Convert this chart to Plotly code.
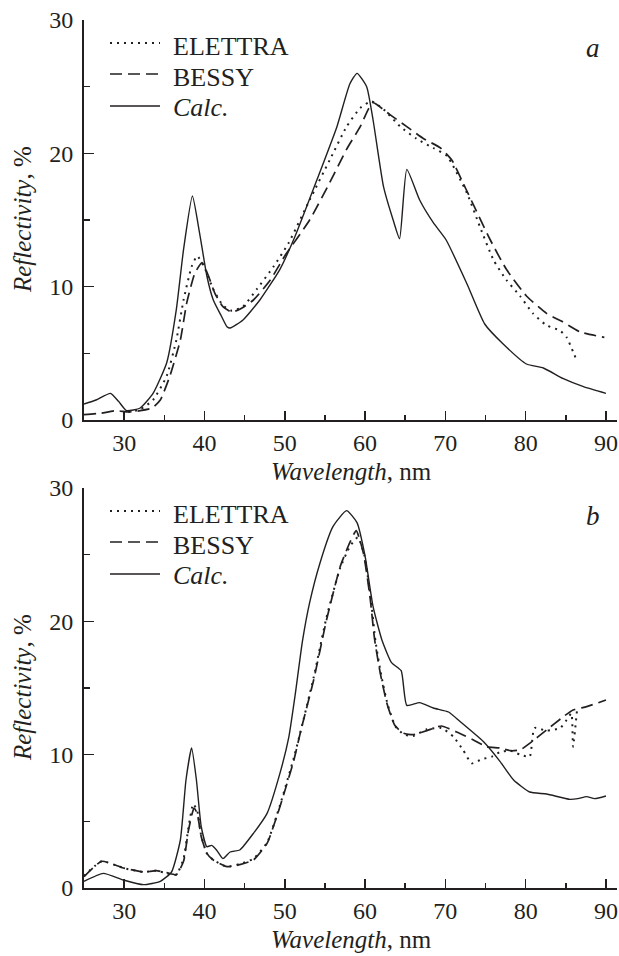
import plotly.graph_objects as go

# ---------------- data ----------------
# Panel a
calc_a_x = [25, 26.5, 28.3, 29.3, 30.3, 32, 33.6, 35.3, 36.5, 37.4, 38.5, 39.4, 40.3, 41.1, 42.1, 42.8,
            43.2, 44.8, 46.9, 49.4, 51.3, 54, 56.5, 58.1, 59.0, 60.2, 61.0, 62.3, 63.5, 64.3, 65.2, 66.8,
            68.5, 70.1, 72.7, 74.9, 77.2, 80.1, 82.2, 84.7, 87.2, 90.0]
calc_a_y = [1.2, 1.5, 2.0, 1.4, 0.7, 0.9, 2.0, 4.3, 8.3, 12.8, 16.8, 14.0, 10.8, 9.0, 7.8, 7.0,
            6.9, 7.5, 9.0, 11.3, 13.8, 18.0, 22.0, 25.2, 26.0, 25.0, 22.5, 17.5, 15.0, 13.6, 18.8, 16.5,
            14.8, 13.5, 10.2, 7.2, 5.7, 4.2, 3.9, 3.1, 2.5, 2.0]

elettra_a_x = [30.5, 32, 33.6, 35.3, 36.5, 37.4, 38.4, 39.1, 40.1, 41.1, 42.3, 43.4, 44.8, 46.5, 48.6,
               50.5, 53.1, 55.6, 57.7, 59.4, 60.8, 62.3, 64.4, 66.4, 68.5, 70.2, 72.7, 74.3, 76.0, 77.6,
               79.3, 80.9, 82.6, 84.3, 85.1, 86.4]
elettra_a_y = [0.6, 0.8, 1.5, 3.3, 6.0, 9.0, 11.5, 12.3, 11.3, 9.8, 8.6, 8.2, 8.5, 9.8, 11.5,
               13.3, 16.5, 19.5, 22.0, 23.4, 23.9, 23.3, 22.0, 21.1, 20.4, 19.8, 17.0, 14.5, 12.0, 10.5,
               9.3, 8.0, 7.1, 6.7, 6.2, 4.4]

bessy_a_x = [25, 27, 29, 30.5, 32, 33.5, 34.5, 35.7, 37.0, 37.8, 38.8, 39.7, 40.5, 41.3, 42.3, 43.4,
             44.4, 46.1, 48.2, 50.0, 53.1, 55.6, 57.7, 59.4, 60.4, 61.0, 63.1, 65.2, 67.3, 69.4, 70.8,
             72.5, 75.6, 77.6, 80.1, 82.6, 84.5, 86.8, 89.8]
bessy_a_y = [0.4, 0.5, 0.7, 0.6, 0.7, 0.9, 1.5, 3.3, 6.0, 8.8, 11.0, 11.8, 10.8, 9.5, 8.5, 8.1,
             8.3, 9.0, 10.5, 12.3, 15.0, 17.8, 20.3, 22.0, 23.3, 23.8, 22.9, 22.0, 21.1, 20.4, 19.5,
             17.4, 13.5, 11.3, 9.3, 8.0, 7.4, 6.6, 6.2]

# Panel b
calc_b_x = [25, 27.4, 29.9, 32.4, 34.5, 35.9, 37.0, 37.7, 38.4, 39.0, 39.6, 40.3, 40.9, 41.5, 42.3,
            43.2, 44.4, 46.1, 47.8, 49.4, 50.5, 51.3, 52.2, 53.1, 54.4, 56.0, 57.7, 59.0, 60.0, 61.0,
            62.1, 63.3, 64.5, 65.2, 66.8, 68.5, 70.4, 71.8, 74.7, 76.8, 78.5, 80.5, 82.6, 85.5, 86.5,
            87.6, 88.6, 90.0]
calc_b_y = [0.5, 1.1, 0.6, 0.25, 0.5, 1.2, 3.6, 8.1, 10.5, 8.1, 4.6, 3.1, 3.2, 2.85, 2.2,
            2.7, 2.85, 4.1, 5.6, 8.6, 11.3, 14.5, 18.5, 21.4, 24.4, 27.1, 28.3, 27.4, 24.9, 21.1,
            18.6, 16.9, 16.3, 13.7, 13.9, 13.5, 13.2, 12.5, 11.0, 9.5, 8.1, 7.2, 7.05, 6.65, 6.7,
            6.85, 6.7, 6.9]

elettra_b_x = [25, 27.2, 29.9, 32.4, 34.0, 35.3, 36.5, 37.4, 38.0, 38.6, 39.1, 39.6, 40.3, 41.1, 42.8,
               44.4, 46.1, 47.8, 49.4, 51.1, 52.0, 53.6, 55.2, 56.9, 58.1, 59.1, 59.9, 60.7, 61.3, 62.0,
               62.8, 63.8, 64.9, 66.0, 67.7, 69.5, 71.0, 72.2, 73.3, 74.5, 75.8, 76.8, 78.1, 79.3, 80.5,
               81.1, 82.6, 84.3, 85.1, 85.7, 85.9, 86.4]
elettra_b_y = [0.9, 2.0, 1.5, 1.2, 1.3, 1.1, 1.0, 2.2, 4.5, 6.3, 5.8, 3.9, 2.6, 2.1, 1.6,
               1.8, 2.2, 3.4, 6.2, 9.7, 11.8, 15.8, 20.3, 24.0, 25.6, 26.3, 25.0, 21.8, 18.5, 16.0,
               13.8, 12.1, 11.5, 11.4, 11.9, 12.0, 11.35, 10.35, 9.35, 9.65, 9.85, 10.2, 10.3, 10.0, 9.85,
               12.0, 11.8, 12.0, 12.6, 13.1, 10.6, 13.35]

bessy_b_x = [25, 27.2, 29.9, 32.4, 34.0, 35.3, 36.5, 37.4, 38.0, 38.7, 39.1, 39.6, 40.3, 41.1, 42.8,
             44.4, 46.1, 47.8, 49.4, 51.1, 52.0, 53.6, 55.2, 56.9, 58.1, 58.9, 59.8, 60.6, 61.2, 61.9,
             62.7, 63.7, 64.8, 66.0, 67.7, 69.5, 71.4, 73.5, 75.1, 76.8, 78.1, 79.3, 80.5, 82.6, 84.7,
             85.9, 87.6, 90.0]
bessy_b_y = [0.85, 2.0, 1.5, 1.2, 1.3, 1.15, 1.0, 2.0, 4.3, 6.0, 5.6, 3.85, 2.6, 2.1, 1.6,
             1.75, 2.1, 3.35, 6.1, 9.5, 11.8, 15.6, 20.1, 24.1, 25.9, 26.8, 25.1, 21.9, 18.6, 16.1,
             13.9, 12.2, 11.6, 11.5, 11.8, 12.15, 11.7, 11.1, 10.6, 10.5, 10.3, 10.35, 10.85, 11.85, 12.85,
             13.35, 13.6, 14.1]

series_names = ["ELETTRA", "BESSY", "Calc."]
legend_labels = ["ELETTRA", "BESSY", "<i>Calc.</i>"]
panel_labels = ["a", "b"]
x_ticks = [30, 40, 50, 60, 70, 80, 90]
y_ticks = [0, 10, 20, 30]

# ---------------- style ----------------
FONT = "Liberation Serif"
INK = "#231f20"
W, H = 619, 956
ML, MR, MT, MB = 84, 2, 20, 68
PH = H - MT - MB
PW = W - ML - MR
top_dom = [(888 - 420) / PH, 1.0]
bot_dom = [0.0, (888 - 488) / PH]
XR = [25, 25 + PW / 8.03]

dashes = {"ELETTRA": "2px,5px", "BESSY": "12px,6px", "Calc.": "solid"}
widths = {"ELETTRA": 2.0, "BESSY": 1.7, "Calc.": 1.4}

panels = [
    ("x", "y", {"ELETTRA": (elettra_a_x, elettra_a_y), "BESSY": (bessy_a_x, bessy_a_y),
                "Calc.": (calc_a_x, calc_a_y)}),
    ("x2", "y2", {"ELETTRA": (elettra_b_x, elettra_b_y), "BESSY": (bessy_b_x, bessy_b_y),
                  "Calc.": (calc_b_x, calc_b_y)}),
]

fig = go.Figure()
for xa, ya, d in panels:
    for name in series_names:
        xs, ys = d[name]
        fig.add_trace(go.Scatter(x=xs, y=ys, mode="lines", name=name, xaxis=xa, yaxis=ya,
                                 showlegend=False, hoverinfo="skip",
                                 line=dict(color=INK, width=widths[name], dash=dashes[name],
                                           shape="spline", smoothing=0.5)))

def axis_common(standoff):
    return dict(showline=True, linecolor=INK, linewidth=2, ticks="inside", tickcolor=INK,
                tickwidth=1.5, showgrid=False, zeroline=False,
                tickfont=dict(family=FONT, size=24, color=INK), ticklabelstandoff=standoff)

xa_cfg = dict(range=XR, tickmode="array", tickvals=x_ticks, ticklen=9,
              minor=dict(ticks="inside", dtick=5, tick0=0, ticklen=5, tickwidth=1.5, tickcolor=INK),
              **axis_common(0))
ya_cfg = dict(range=[0, 30], tickmode="array", tickvals=y_ticks, ticklen=10,
              minor=dict(ticks="inside", dtick=5, tick0=0, ticklen=6, tickwidth=1.5, tickcolor=INK),
              **axis_common(4))

fig.update_layout(
    width=W, height=H, margin=dict(l=ML, r=MR, t=MT, b=MB),
    paper_bgcolor="white", plot_bgcolor="white", showlegend=False, hovermode=False,
    xaxis=dict(domain=[0, 1], anchor="y", **xa_cfg),
    yaxis=dict(domain=top_dom, anchor="x", **ya_cfg),
    xaxis2=dict(domain=[0, 1], anchor="y2", **xa_cfg),
    yaxis2=dict(domain=bot_dom, anchor="x2", **ya_cfg),
)

def px_x(p):
    return (p - ML) / PW

def px_y(p):
    return (H - MB - p) / PH

annotations = []
shapes = []
for i, top in enumerate([20, 488]):
    # legend
    line_y = [top + 23, top + 54, top + 86]
    text_y = [top + 26, top + 57, top + 87]
    for j, name in enumerate(series_names):
        shapes.append(dict(type="line", xref="paper", yref="paper",
                           x0=px_x(110), x1=px_x(160), y0=px_y(line_y[j]), y1=px_y(line_y[j]),
                           line=dict(color=INK, width=widths[name], dash=dashes[name])))
        annotations.append(dict(text=legend_labels[j], xref="paper", yref="paper",
                                x=px_x(171), y=px_y(text_y[j]), xanchor="left", yanchor="middle",
                                showarrow=False, font=dict(family=FONT, size=26, color=INK)))
    # panel label
    annotations.append(dict(text="<i>%s</i>" % panel_labels[i], xref="paper", yref="paper",
                            x=px_x(593), y=px_y(top + 28), xanchor="center", yanchor="middle",
                            showarrow=False, font=dict(family=FONT, size=27, color=INK)))
    # axis titles
    annotations.append(dict(text="<i>Reflectivity</i>, %", xref="paper", yref="paper",
                            x=px_x(22), y=px_y(top + 200), xanchor="center", yanchor="middle",
                            textangle=-90, showarrow=False,
                            font=dict(family=FONT, size=25, color=INK)))
    annotations.append(dict(text="<i>Wavelength</i>, nm", xref="paper", yref="paper",
                            x=px_x(351), y=px_y(top + 451), xanchor="center", yanchor="middle",
                            showarrow=False, font=dict(family=FONT, size=25, color=INK)))

fig.update_layout(annotations=annotations, shapes=shapes)
fig.write_html("out.html", config={"displayModeBar": False, "staticPlot": True},
               post_script="document.body.style.margin='0';")
